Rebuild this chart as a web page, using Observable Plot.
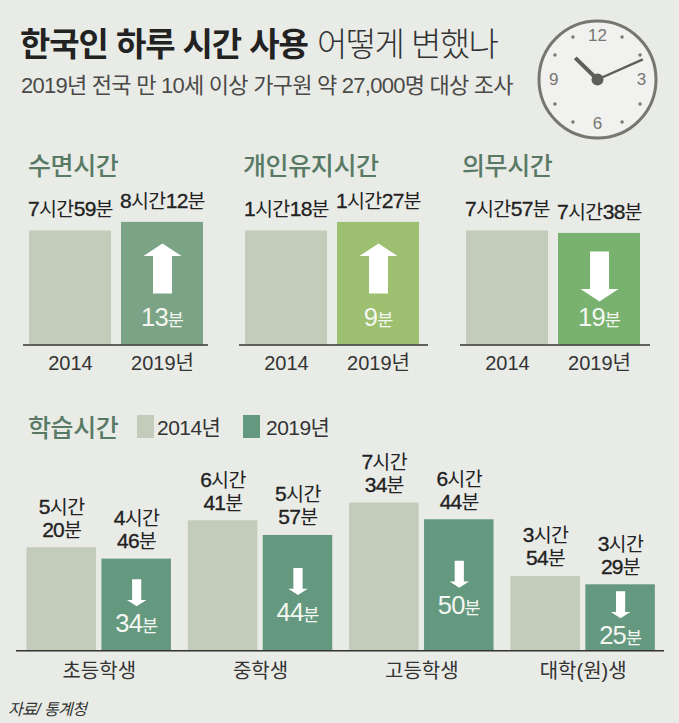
<!DOCTYPE html>
<html lang="ko">
<head>
<meta charset="utf-8">
<script src="https://cdn.jsdelivr.net/npm/d3@7"></script>
<script src="https://cdn.jsdelivr.net/npm/@observablehq/plot@0.6"></script>
<style>
html,body{margin:0;padding:0;background:#e9ebe7;}
#root{position:relative;width:679px;height:723px;overflow:hidden;background:#e9ebe7;font-family:"Liberation Sans","Noto Sans CJK KR",sans-serif;}
#root svg{position:absolute;overflow:visible;background:transparent;}
.t{position:absolute;white-space:nowrap;line-height:1;}
.head{font-size:25px;font-weight:500;color:#587a65;letter-spacing:-.4px;font-family:"Noto Sans CJK KR",sans-serif;}
.sw{position:absolute;}
</style>
</head>
<body>
<div id="root"></div>
<script>
const FONT = '"Liberation Sans","Noto Sans CJK KR",sans-serif';

// ---- data (minutes) ----
const years = ["2014", "2019년"];
const sleepMinutes = [479, 492];
const personalMinutes = [78, 87];
const dutyMinutes = [477, 458];
const topChange = [13, 9, 19];
const topTitles = ["수면시간", "개인유지시간", "의무시간"];

const levels = ["초등학생", "중학생", "고등학생", "대학(원)생"];
const study2014 = [320, 401, 454, 234];
const study2019 = [286, 357, 404, 209];
const studyChange = [34, 44, 50, 25];
const legendYears = ["2014년", "2019년"];

const clockNumerals = [12, 3, 6, 9];
const clockDots = [1, 2, 4, 5, 7, 8, 10, 11];
const clockHands = [{hour: 10.47, length: 0.5, width: 4}, {hour: 2.2, length: 0.8, width: 2.4}];

// ---- helpers ----
const root = document.getElementById("root");
const hm = m => `${Math.floor(m / 60)}시간${m % 60}분`;
const hm2 = m => `${Math.floor(m / 60)}시간\n${m % 60}분`;

function addText(html, left, top, cls, style = "") {
  const d = document.createElement("div");
  d.className = "t " + (cls || "");
  d.style.cssText = `left:${left}px;top:${top}px;${style}`;
  d.innerHTML = html;
  root.appendChild(d);
}
function place(svg, left, top) {
  svg.style.left = left + "px";
  svg.style.top = top + "px";
  svg.style.maxWidth = "none";
  root.appendChild(svg);
}
// Digits and Hangul are set differently in the source: split each label into flat runs
function runs(svg, sel, digit, hangul) {
  const NS = "http://www.w3.org/2000/svg";
  svg.querySelectorAll(sel).forEach(t => {
    const lines = t.querySelector("tspan") ? [...t.querySelectorAll("tspan")] : [null];
    lines.forEach(line => {
      const src = line || t;
      const parts = src.textContent.split(/(\d+)/).filter(s => s);
      const made = parts.map((p, i) => {
        const s = document.createElementNS(NS, "tspan");
        const st = /\d/.test(p) ? digit : hangul;
        for (const k in st) s.setAttribute(k, st[k]);
        if (line && i === 0) for (const a of line.attributes) s.setAttribute(a.name, a.value);
        s.textContent = p;
        return s;
      });
      if (line) { made.forEach(s => t.insertBefore(s, line)); line.remove(); }
      else { t.textContent = ""; made.forEach(s => t.appendChild(s)); }
    });
  });
}
const valDigit = {"font-size": 21, "letter-spacing": "-0.8", stroke: "#222", "stroke-width": 0.35};
const valHangul = {"font-size": 19.5, "letter-spacing": "-0.5"};
const chgDigit = {"font-size": 25.5, "letter-spacing": "-0.8"};
const chgHangul = {"font-size": 17.5};

// Arrow symbols; r is half of the arrow's height
const arrow = (dir, w, stem, head) => ({
  draw(ctx, size) {
    const r = Math.sqrt(size / Math.PI), s = dir;
    const W = r * w, S = r * stem, H = r * head;
    ctx.moveTo(0, -s * r);
    ctx.lineTo(W, -s * (r - H));
    ctx.lineTo(S, -s * (r - H));
    ctx.lineTo(S, s * r);
    ctx.lineTo(-S, s * r);
    ctx.lineTo(-S, -s * (r - H));
    ctx.lineTo(-W, -s * (r - H));
    ctx.closePath();
  }
});

// ---- top panels ----
function topPanel({left, width, xRange, values, domain, barTop, color, dir, change, arrowDy, labelDy}) {
  const B = 164.5;
  const rows = years.map((year, i) => ({year, v: values[i]}));
  const last = rows.slice(1);
  const plot = Plot.plot({
    width, height: 200, marginTop: 0, marginLeft: 0, marginRight: 0, marginBottom: 35.5,
    style: {fontFamily: FONT, background: "transparent"},
    x: {domain: years, range: xRange, paddingInner: 0.107, paddingOuter: 0, label: null},
    y: {domain, range: [B, B - barTop], axis: null},
    marks: [
      Plot.barY(rows, {x: "year", y1: domain[0], y2: "v", fill: (d, i) => i ? color : "#c3cbbb"}),
      Plot.ruleY([domain[0]], {stroke: "#333", strokeWidth: 1.4}),
      Plot.axisX({tickSize: 0, tickPadding: 11, fontSize: 20, fill: "#333", label: null}),
      Plot.text(rows, {x: "year", y: "v", text: d => hm(d.v), dy: -21, fontSize: 19.5, fill: "#222", className: "val", lineAnchor: "middle"}),
      Plot.dot(last, {x: "year", y: "v", dy: arrowDy, r: 25, fill: "#fff", stroke: null, symbol: arrow(dir, 0.76, 0.38, 0.5)}),
      Plot.text(last, {x: "year", y: "v", dy: labelDy, text: () => `${change}분`, fill: "#f4f7f1", fontSize: 24, className: "chg", lineAnchor: "middle"})
    ]
  });
  runs(plot, ".val text", valDigit, valHangul);
  runs(plot, ".chg text", chgDigit, chgHangul);
  place(plot, left, 180);
}

topPanel({left: 23, width: 185, xRange: [5.3, 181], values: sleepMinutes, domain: [307, 492], barTop: 122.6,
  color: "#7ba385", dir: 1, change: topChange[0], arrowDy: 46, labelDy: 96});
topPanel({left: 239, width: 189, xRange: [5, 180.7], values: personalMinutes, domain: [-41, 87], barTop: 122.6,
  color: "#9cc070", dir: 1, change: topChange[1], arrowDy: 46, labelDy: 96});
topPanel({left: 460, width: 190, xRange: [6, 181], values: dutyMinutes, domain: [-428, 477], barTop: 114,
  color: "#79b26f", dir: -1, change: topChange[2], arrowDy: 43, labelDy: 85});

// ---- study-time panel: x is a level index with two slots inside each unit ----
{
  const B = 170.3, yBase = 11;
  const rows = levels.flatMap((level, i) => [
    {level, i, j: 0, v: study2014[i]},
    {level, i, j: 1, v: study2019[i]}
  ]);
  const after = levels.map((level, i) => ({i, v: study2019[i], change: studyChange[i]}));
  const lift = d => yBase + 0.47 * (d.v - yBase);
  const slot = 0.4645, bw = 0.431;
  const center2 = d => d.i + slot + bw / 2;
  const plot = Plot.plot({
    width: 648, height: 210, marginTop: 0, marginLeft: 0, marginRight: 0, marginBottom: 39.7,
    style: {fontFamily: FONT, background: "transparent"},
    x: {type: "linear", domain: [0, 4], range: [10.5, 655.7], axis: null},
    y: {domain: [yBase, 454], range: [B, B - 147.7], axis: null},
    marks: [
      Plot.rectY(rows, {x1: d => d.i + d.j * slot, x2: d => d.i + d.j * slot + bw, y1: yBase, y2: "v",
        fill: d => d.j ? "#65997f" : "#c3cbbb"}),
      Plot.ruleY([yBase], {stroke: "#333", strokeWidth: 1.4}),
      Plot.axisX(levels.map((_, i) => i + slot / 2 + bw / 2), {tickSize: 0, tickPadding: 13, fontSize: 20, fill: "#333", label: null,
        tickFormat: d => levels[Math.floor(d)]}),
      Plot.text(rows, {x: d => d.i + d.j * slot + bw / 2, y: "v", text: d => hm2(d.v), lineAnchor: "bottom", dy: -11, fontSize: 19.5, lineHeight: 1.1, fill: "#222", className: "val"}),
      Plot.dot(after, {x: center2, y: lift, dy: -15, r: 13.5, fill: "#fff", stroke: null, symbol: arrow(-1, 0.72, 0.34, 0.46)}),
      Plot.text(after, {x: center2, y: lift, dy: 17, text: d => `${d.change}분`, fill: "#f4f7f1", className: "chg", lineAnchor: "middle", fontSize: 24})
    ]
  });
  runs(plot, ".val text", valDigit, valHangul);
  runs(plot, ".chg text", chgDigit, chgHangul);
  place(plot, 16, 480);
}

// ---- clock ----
{
  const size = 124, r = 58.5, k = r / 62;
  const pol = (h, l) => ({x: l * Math.sin(h * Math.PI / 6), y: l * Math.cos(h * Math.PI / 6)});
  const hands = clockHands.map(h => ({...pol(h.hour, h.length), ...h}));
  const plot = Plot.plot({
    width: size, height: size, margin: 0,
    style: {fontFamily: FONT, background: "transparent"},
    x: {domain: [-1, 1], range: [0, size], axis: null},
    y: {domain: [-1, 1], range: [size, 0], axis: null},
    marks: [
      Plot.dot([0], {x: () => 0, y: () => 0, r, fill: "#f1f1ef", stroke: "#77776f", strokeWidth: 3}),
      Plot.dot(clockDots, {x: h => pol(h, 0.84 * k).x, y: h => pol(h, 0.84 * k).y, r: 1.7, fill: "#77776f", stroke: null}),
      Plot.text(clockNumerals, {x: h => pol(h, 0.75 * k).x, y: h => pol(h, 0.75 * k).y, text: h => String(h), fontSize: 17, fill: "#77776f", lineAnchor: "middle"}),
      ...hands.map(h => Plot.link([h], {x1: () => 0, y1: () => 0, x2: "x", y2: "y", stroke: "#5f5f59", strokeWidth: h.width})),
      Plot.dot([0], {x: () => 0, y: () => 0, r: 6, fill: "#5f5f59", stroke: null})
    ]
  });
  place(plot, 597 - size / 2, 79 - size / 2);
}

// ---- text ----
addText('<b style="font-weight:700;letter-spacing:-1.1px">한국인 하루 시간 사용</b> <span style="font-weight:300;letter-spacing:-1.6px;color:#333">어떻게 변했나</span>', 20, 26, "", 'font-size:33px;color:#222;font-family:"Noto Sans CJK KR",sans-serif;');
addText("2019년 전국 만 10세 이상 가구원 약 27,000명 대상 조사", 21, 75, "", "font-size:22px;color:#4a4a48;letter-spacing:-.75px;");
addText(topTitles[0], 28, 152, "head");
addText(topTitles[1], 243, 152, "head");
addText(topTitles[2], 462, 152, "head");
addText("학습시간", 28, 414, "head");

const sw = (left, c) => {
  const d = document.createElement("div");
  d.className = "sw";
  d.style.cssText = `left:${left}px;top:415px;width:17px;height:23px;background:${c}`;
  root.appendChild(d);
};
sw(137, "#c3cbbb"); sw(243, "#65997f");
addText(legendYears[0], 157, 417, "", "font-size:21px;color:#333;letter-spacing:-.55px");
addText(legendYears[1], 266, 417, "", "font-size:21px;color:#333;letter-spacing:-.55px");
addText("자료/ 통계청", 8, 702, "", "font-size:16px;font-style:italic;color:#333;letter-spacing:-.6px");
</script>
</body>
</html>
